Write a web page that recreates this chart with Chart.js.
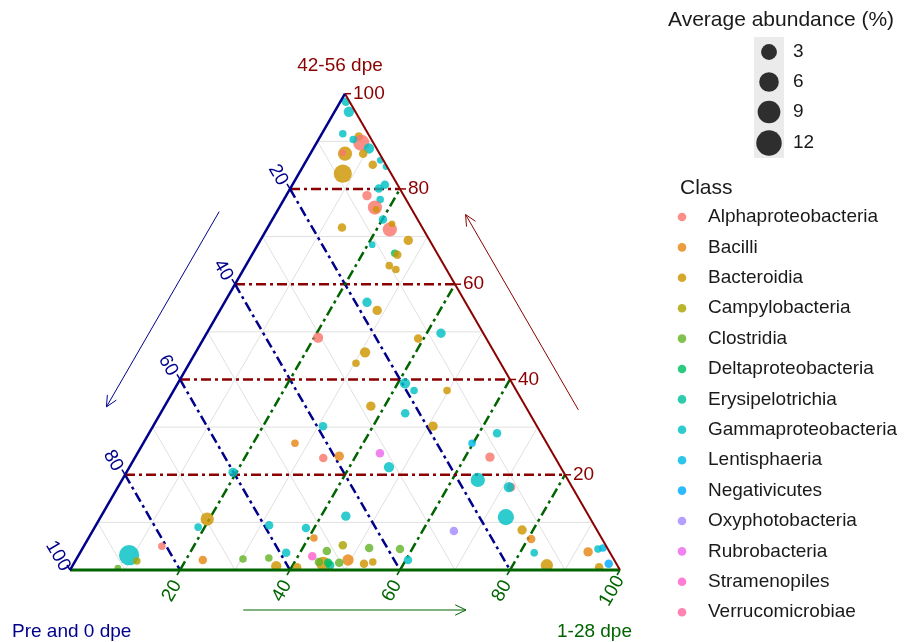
<!DOCTYPE html>
<html>
<head>
<meta charset="utf-8">
<script src="https://cdn.jsdelivr.net/npm/chart.js@4.4.0/dist/chart.umd.min.js"></script>
<style>
  html, body { margin: 0; padding: 0; background: #ffffff; }
  #wrap { width: 915px; height: 642px; }
</style>
</head>
<body>
<div id="wrap"><canvas id="chart" width="915" height="642"></canvas></div>
<script>
// Class names and their colours (legend order)
const classNames = ['Alphaproteobacteria', 'Bacilli', 'Bacteroidia', 'Campylobacteria', 'Clostridia',
    'Deltaproteobacteria', 'Erysipelotrichia', 'Gammaproteobacteria', 'Lentisphaeria', 'Negativicutes',
    'Oxyphotobacteria', 'Rubrobacteria', 'Stramenopiles', 'Verrucomicrobiae'];
const classColors = ['#F8766D', '#E68613', '#CD9600', '#ABA300', '#64B32A',
    '#00BE67', '#00C19A', '#00BFC4', '#00B8E7', '#00A9FF',
    '#A58AFF', '#ED68ED', '#FF61CC', '#FF68A1'];

// One entry per taxon: class index, share (%) in each group, average abundance (%)
const pointClass = [7, 7, 7, 2, 0, 7, 7, 2, 0, 2, 7, 2, 7, 2, 7, 7, 0, 7, 0, 2,
    7, 0, 2, 2, 2, 7, 5, 2, 2, 2, 7, 2, 0, 7, 2, 2, 2, 7, 7, 2,
    2, 7, 7, 2, 1, 7, 2, 7, 7, 7, 0, 7, 3, 1, 4, 4, 7, 2, 2, 4,
    0, 1, 11, 7, 8, 7, 7, 10, 1, 3, 4, 4, 4, 12, 7, 1, 2, 2, 2, 4,
    6, 4, 7, 0, 0, 7, 7, 2, 1, 7, 2, 1, 7, 8, 2, 9, 5];
const prePct = [0.7, 1.2, 4.6, 2.0, 2.2, 3.3, 1.4, 6.3, 6.6, 3.0, 0.6, 2.4, 0.2, 8.8, 2.3, 3.8, 6.7, 4.7, 6.5, 6.5,
    6.3, 6.1, 5.1, 14.6, 3.9, 10.9, 7.7, 7.4, 10.0, 9.2, 17.9, 16.9, 30.5, 7.7, 12.4, 23.5, 26.3, 19.5, 18.6, 12.6,
    28.1, 22.6, 38.9, 18.9, 45.8, 60.1, 69.7, 72.2, 59.1, 52.7, 80.8, 87.7, 86.9, 74.8, 67.4, 62.6, 58.9, 62.1, 58.4, 91.1,
    42.2, 39.1, 31.4, 31.2, 13.6, 16.4, 44.2, 26.1, 52.3, 47.8, 51.3, 43.3, 37.8, 54.5, 37.5, 48.4, 45.9, 44.1, 53.3, 53.9,
    52.2, 50.3, 8.0, 11.8, 11.1, 11.5, 15.2, 13.6, 12.9, 13.8, 12.8, 3.9, 1.8, 0.8, 3.5, 1.4, 52.3];
const earlyPct = [1.0, 2.6, 3.8, 7.0, 8.1, 6.3, 10.1, 6.3, 5.8, 9.6, 13.4, 12.5, 15.1, 8.0, 16.8, 16.1, 14.7, 17.5, 17.4, 17.8,
    20.1, 22.4, 22.2, 13.5, 26.9, 20.8, 25.8, 26.4, 26.1, 27.7, 25.9, 28.6, 20.7, 42.6, 39.0, 30.8, 30.3, 41.3, 43.7, 49.7,
    37.5, 44.5, 30.9, 50.9, 27.6, 19.4, 19.6, 18.8, 31.5, 38.5, 14.2, 9.2, 11.2, 23.1, 30.3, 34.9, 37.5, 37.1, 41.0, 8.5,
    34.3, 37.0, 44.1, 47.2, 59.8, 64.7, 44.5, 65.7, 41.0, 47.0, 44.7, 52.1, 57.8, 42.6, 60.4, 49.5, 52.8, 54.2, 45.4, 44.4,
    46.8, 48.2, 63.3, 64.5, 71.5, 71.1, 73.7, 78.0, 80.6, 82.6, 86.2, 92.3, 93.8, 94.6, 95.9, 97.3, 46.2];
const latePct = [98.3, 96.2, 91.6, 91.0, 89.7, 90.4, 88.5, 87.4, 87.6, 87.4, 86.0, 85.1, 84.7, 83.2, 80.9, 80.1, 78.6, 77.8, 76.1, 75.7,
    73.6, 71.5, 72.7, 71.9, 69.2, 68.3, 66.5, 66.2, 63.9, 63.1, 56.2, 54.5, 48.8, 49.7, 48.6, 45.7, 43.4, 39.2, 37.7, 37.7,
    34.4, 32.9, 30.2, 30.2, 26.6, 20.5, 10.7, 9.0, 9.4, 8.8, 5.0, 3.1, 1.9, 2.1, 2.3, 2.5, 3.6, 0.8, 0.6, 0.4,
    23.5, 23.9, 24.5, 21.6, 26.6, 18.9, 11.3, 8.2, 6.7, 5.2, 4.0, 4.6, 4.4, 2.9, 2.1, 2.1, 1.3, 1.7, 1.3, 1.7,
    1.0, 1.5, 28.7, 23.7, 17.4, 17.4, 11.1, 8.4, 6.5, 3.6, 1.0, 3.8, 4.4, 4.6, 0.6, 1.3, 1.5];
const abundance = [1.3, 2.4, 0.8, 1.3, 7.4, 0.8, 2.4, 5.5, 0.4, 1.3, 0.4, 1.3, 0.4, 9.6, 1.3, 1.3, 1.8, 0.8, 5.5, 0.4,
    1.3, 5.5, 0.4, 1.3, 1.8, 0.4, 0.8, 1.3, 0.8, 0.8, 1.8, 1.8, 2.4, 1.8, 1.3, 2.4, 0.8, 2.4, 0.8, 0.8,
    1.8, 1.3, 1.3, 1.8, 0.8, 1.8, 4.6, 0.8, 1.3, 1.3, 0.8, 12.1, 0.8, 1.3, 0.8, 0.8, 1.3, 2.4, 1.3, 0.4,
    1.3, 1.8, 1.3, 2.4, 0.8, 5.5, 1.8, 1.3, 0.8, 1.3, 1.3, 1.3, 1.3, 1.3, 1.3, 3.1, 1.3, 0.8, 5.5, 1.3,
    1.3, 1.3, 1.3, 1.8, 1.3, 2.4, 7.4, 1.8, 1.3, 0.8, 3.8, 1.8, 0.8, 0.8, 1.3, 1.3, 1.3];

// Axis values
const dashValues = [20, 40, 60, 80];
const gridValues = [10, 30, 50, 70, 90];
const tickValues = [20, 40, 60, 80, 100];
const sizeLegend = [3, 6, 9, 12];

// Colours of the three axes
const colPre = '#00008B';   // Pre and 0 dpe
const colEarly = '#006400'; // 1-28 dpe
const colLate = '#8B0000';  // 42-56 dpe
const font = '"Liberation Sans", Arial, sans-serif';

// Where the triangle sits on the page (pixels)
const TRI = { x0: 70, y0: 570, side: 550 };
const unit = TRI.side / 100;

// Ternary (pre, early, late) -> cartesian in axis units
function tern(pre, early, late) {
    return { x: early + late / 2, y: late * Math.sqrt(3) / 2 };
}

function withAlpha(hex, a) {
    const n = parseInt(hex.slice(1), 16);
    return `rgba(${n >> 16},${(n >> 8) & 255},${n & 255},${a})`;
}

// Point radius from abundance
function radius(a) { return Math.sqrt(8 + 7.8 * a); }
function legendRadius(a) { return Math.sqrt(30 + 11 * a); }

// Build a straight segment dataset
function segment(a, b, color, width, dash, order) {
    return {
        data: [tern(...a), tern(...b)],
        showLine: true,
        borderColor: color,
        borderWidth: width,
        borderDash: dash || [],
        pointRadius: 0,
        fill: false,
        order: order
    };
}

const datasets = [];

// Taxa points
datasets.push({
    data: prePct.map((p, i) => tern(p, earlyPct[i], latePct[i])),
    backgroundColor: ctx => withAlpha(classColors[pointClass[ctx.dataIndex]], 0.82),
    borderWidth: 0,
    pointRadius: ctx => radius(abundance[ctx.dataIndex]),
    order: 1
});

// Light grid
gridValues.forEach(v => {
    datasets.push(segment([100 - v, 0, v], [0, 100 - v, v], '#E0E0E0', 1, null, 4));
    datasets.push(segment([100 - v, v, 0], [0, v, 100 - v], '#E0E0E0', 1, null, 4));
    datasets.push(segment([v, 0, 100 - v], [v, 100 - v, 0], '#E0E0E0', 1, null, 4));
});

// Dash-dot guide lines
const dashPattern = [10, 4, 3, 4];
dashValues.forEach(v => {
    datasets.push(segment([100 - v, 0, v], [0, 100 - v, v], colLate, 2.5, dashPattern, 3));
    datasets.push(segment([100 - v, v, 0], [0, v, 100 - v], colEarly, 2.5, dashPattern, 3));
    datasets.push(segment([v, 0, 100 - v], [v, 100 - v, 0], colPre, 2.5, dashPattern, 3));
});

// Triangle edges
datasets.push(segment([100, 0, 0], [0, 0, 100], colPre, 2.5, null, 0));
datasets.push(segment([0, 100, 0], [0, 0, 100], colLate, 2, null, 0));
datasets.push(segment([100, 0, 0], [0, 100, 0], colEarly, 3, null, 0));

// Clip the points to the triangle
const triangleClip = {
    id: 'triangleClip',
    beforeDatasetDraw(chart, args) {
        if (args.index !== 0) return;
        const xs = chart.scales.x, ys = chart.scales.y;
        const ctx = chart.ctx;
        const v = [tern(100, 0, 0), tern(0, 100, 0), tern(0, 0, 100)];
        ctx.save();
        ctx.beginPath();
        v.forEach((p, i) => {
            const x = xs.getPixelForValue(p.x), y = ys.getPixelForValue(p.y);
            i ? ctx.lineTo(x, y) : ctx.moveTo(x, y);
        });
        ctx.closePath();
        ctx.clip();
    },
    afterDatasetDraw(chart, args) {
        if (args.index === 0) chart.ctx.restore();
    }
};

function drawArrow(ctx, a, b, color) {
    ctx.strokeStyle = color;
    ctx.lineWidth = 1;
    ctx.beginPath();
    ctx.moveTo(a.x, a.y);
    ctx.lineTo(b.x, b.y);
    ctx.stroke();
    const ang = Math.atan2(b.y - a.y, b.x - a.x), len = 12, spread = Math.PI / 7;
    ctx.beginPath();
    ctx.moveTo(b.x - len * Math.cos(ang - spread), b.y - len * Math.sin(ang - spread));
    ctx.lineTo(b.x, b.y);
    ctx.lineTo(b.x - len * Math.cos(ang + spread), b.y - len * Math.sin(ang + spread));
    ctx.stroke();
}

function rotatedText(ctx, text, x, y, angle) {
    ctx.save();
    ctx.translate(x, y);
    ctx.rotate(angle);
    ctx.fillText(text, 0, 0);
    ctx.restore();
}

// Ticks, labels, arrows, titles and legends
const decor = {
    id: 'decor',
    afterDraw(chart) {
        const ctx = chart.ctx;
        const xs = chart.scales.x, ys = chart.scales.y;
        const px = p => ({ x: xs.getPixelForValue(p.x), y: ys.getPixelForValue(p.y) });
        const s3 = Math.sqrt(3) / 2;

        ctx.save();
        ctx.font = '19px ' + font;
        ctx.textBaseline = 'middle';
        ctx.lineWidth = 1.5;

        tickValues.forEach(v => {
            const lab = String(v);
            // late (right edge)
            let p = px(tern(0, 100 - v, v));
            ctx.strokeStyle = colLate; ctx.fillStyle = colLate;
            ctx.beginPath(); ctx.moveTo(p.x, p.y); ctx.lineTo(p.x + 6, p.y); ctx.stroke();
            ctx.textAlign = 'left';
            ctx.fillText(lab, p.x + 8, p.y);
            // pre (left edge)
            p = px(tern(v, 0, 100 - v));
            ctx.strokeStyle = colPre; ctx.fillStyle = colPre;
            ctx.beginPath(); ctx.moveTo(p.x, p.y); ctx.lineTo(p.x - 3, p.y - 5); ctx.stroke();
            ctx.textAlign = 'center';
            rotatedText(ctx, lab, p.x - 12, p.y - 14, Math.PI / 3);
            // early (bottom edge)
            p = px(tern(100 - v, v, 0));
            ctx.strokeStyle = colEarly; ctx.fillStyle = colEarly;
            ctx.beginPath(); ctx.moveTo(p.x, p.y); ctx.lineTo(p.x - 3, p.y + 5); ctx.stroke();
            rotatedText(ctx, lab, p.x - 8, p.y + 21, -Math.PI / 3);
        });

        // Direction arrows along each side
        let a = px(tern(30, 0, 70)), b = px(tern(71, 0, 29));
        drawArrow(ctx, { x: a.x - 50 * s3, y: a.y - 25 }, { x: b.x - 50 * s3, y: b.y - 25 }, colPre);
        a = px(tern(0, 71, 29)); b = px(tern(0, 30, 70));
        drawArrow(ctx, { x: a.x + 44 * s3, y: a.y - 22 }, { x: b.x + 44 * s3, y: b.y - 22 }, colLate);
        a = px(tern(68.5, 31.5, 0)); b = px(tern(28, 72, 0));
        drawArrow(ctx, { x: a.x, y: a.y + 40 }, { x: b.x, y: b.y + 40 }, colEarly);

        // Vertex titles
        const top = px(tern(0, 0, 100)), left = px(tern(100, 0, 0)), right = px(tern(0, 100, 0));
        ctx.fillStyle = colLate; ctx.textAlign = 'center';
        ctx.fillText('42-56 dpe', top.x - 5, top.y - 28);
        ctx.fillStyle = colPre; ctx.textAlign = 'left';
        ctx.fillText('Pre and 0 dpe', left.x - 58, left.y + 62);
        ctx.fillStyle = colEarly; ctx.textAlign = 'right';
        ctx.fillText('1-28 dpe', right.x + 12, right.y + 62);

        // Size legend
        ctx.fillStyle = '#1A1A1A'; ctx.textAlign = 'left';
        ctx.font = '21px ' + font;
        ctx.fillText('Average abundance (%)', 668, 20);
        ctx.fillStyle = '#EBEBEB';
        ctx.fillRect(754, 37, 30, 121);
        const sizeY = [52, 82, 112, 143];
        ctx.font = '19px ' + font;
        sizeLegend.forEach((s, i) => {
            ctx.fillStyle = '#2E2E2E';
            ctx.beginPath(); ctx.arc(769, sizeY[i], legendRadius(s), 0, 2 * Math.PI); ctx.fill();
            ctx.fillStyle = '#1A1A1A';
            ctx.fillText(String(s), 793, sizeY[i]);
        });

        // Class legend
        ctx.font = '21px ' + font;
        ctx.fillText('Class', 680, 188);
        ctx.font = '19px ' + font;
        classNames.forEach((name, i) => {
            const y = 217 + i * 30.4;
            ctx.fillStyle = withAlpha(classColors[i], 0.82);
            ctx.beginPath(); ctx.arc(682, y, 4.3, 0, 2 * Math.PI); ctx.fill();
            ctx.fillStyle = '#1A1A1A';
            ctx.fillText(name, 708, y);
        });
        ctx.restore();
    }
};

new Chart(document.getElementById('chart'), {
    type: 'scatter',
    data: { datasets: datasets },
    options: {
        responsive: false,
        animation: false,
        events: [],
        layout: { padding: 0, autoPadding: false },
        scales: {
            x: { display: false, min: -TRI.x0 / unit, max: (915 - TRI.x0) / unit },
            y: { display: false, min: -(642 - TRI.y0) / unit, max: TRI.y0 / unit }
        },
        plugins: {
            legend: { display: false },
            tooltip: { enabled: false }
        }
    },
    plugins: [triangleClip, decor]
});
</script>
</body>
</html>
